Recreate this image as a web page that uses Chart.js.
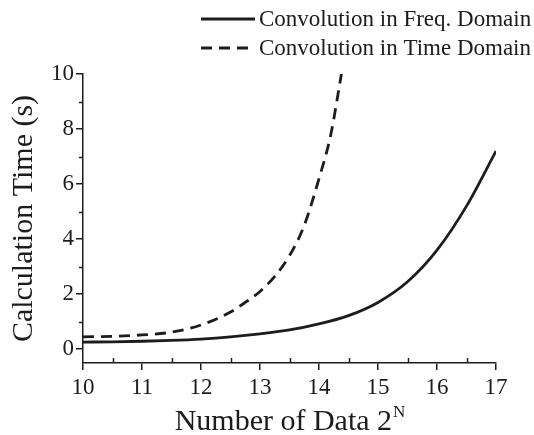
<!DOCTYPE html>
<html>
<head>
<meta charset="utf-8">
<script src="https://cdn.jsdelivr.net/npm/chart.js@4/dist/chart.umd.min.js"></script>
<style>
  html, body { margin: 0; padding: 0; background: #fff; }
  canvas { display: block; }
</style>
</head>
<body>
<canvas id="chart" width="534" height="435"></canvas>
<script>
// Calculation time versus data size exponent N
const freqN    = [10, 10.5, 11, 11.5, 12, 12.5, 13, 13.5, 14, 14.5, 15, 15.5, 16, 16.5, 17];
const freqTime = [0.26, 0.27, 0.29, 0.32, 0.37, 0.45, 0.56, 0.70, 0.92, 1.22, 1.70, 2.45, 3.60, 5.20, 7.20];

const timeN    = [10, 10.5, 11, 11.5, 12, 12.5, 12.75, 13, 13.25, 13.5, 13.75, 14, 14.2, 14.38];
const timeTime = [0.45, 0.47, 0.52, 0.62, 0.88, 1.35, 1.70, 2.10, 2.65, 3.40, 4.50, 6.20, 7.80, 10.0];

const xTickValues = [10, 11, 12, 13, 14, 15, 16, 17];
const yTickValues = [0, 2, 4, 6, 8, 10];

const seriesNames = ['Convolution in Freq. Domain', 'Convolution in Time Domain'];
const xTitleMain = 'Number of Data 2';
const xTitleSup = 'N';
const yTitle = 'Calculation Time (s)';

const INK = '#1c1c1c';
const SERIF = '"Liberation Serif", "Times New Roman", serif';

function toPoints(xs, ys) {
  return xs.map((x, i) => ({ x: x, y: ys[i] }));
}

// Axis lines, minor ticks, titles and legend drawn over the chart
const decorations = {
  id: 'decorations',
  afterDraw(chart) {
    const ctx = chart.ctx;
    const xs = chart.scales.x, ys = chart.scales.y;
    const area = chart.chartArea;
    ctx.save();
    ctx.strokeStyle = INK;
    ctx.lineWidth = 1.5;

    // minor x ticks (pointing into the plot)
    ctx.beginPath();
    for (let i = 0; i < xTickValues.length - 1; i++) {
      const v = (xTickValues[i] + xTickValues[i + 1]) / 2;
      const px = Math.round(xs.getPixelForValue(v)) + 0.5;
      ctx.moveTo(px, area.bottom);
      ctx.lineTo(px, area.bottom - 5);
    }
    // minor y ticks (pointing outward)
    for (let i = 0; i < yTickValues.length - 1; i++) {
      const v = (yTickValues[i] + yTickValues[i + 1]) / 2;
      const py = Math.round(ys.getPixelForValue(v)) + 0.5;
      ctx.moveTo(area.left, py);
      ctx.lineTo(area.left - 4, py);
    }
    ctx.stroke();

    // y axis title
    ctx.fillStyle = INK;
    ctx.font = '30px ' + SERIF;
    ctx.textAlign = 'center';
    ctx.textBaseline = 'middle';
    ctx.save();
    ctx.translate(24, (area.top + area.bottom) / 2);
    ctx.rotate(-Math.PI / 2);
    ctx.fillText(yTitle, 0, 0);
    ctx.restore();

    // x axis title with superscript
    ctx.textBaseline = 'alphabetic';
    ctx.textAlign = 'left';
    ctx.font = '30px ' + SERIF;
    const mainW = ctx.measureText(xTitleMain).width;
    ctx.font = '17px ' + SERIF;
    const supW = ctx.measureText(xTitleSup).width;
    const cx = (area.left + area.right) / 2;
    const startX = cx - (mainW + supW) / 2;
    ctx.font = '30px ' + SERIF;
    ctx.fillText(xTitleMain, startX, 430);
    ctx.font = '17px ' + SERIF;
    ctx.fillText(xTitleSup, startX + mainW + 1, 417);

    // legend
    ctx.font = '23px ' + SERIF;
    ctx.textBaseline = 'middle';
    const rows = [19, 48];
    chart.data.datasets.forEach((ds, i) => {
      const y = rows[i];
      ctx.beginPath();
      ctx.lineWidth = ds.borderWidth;
      ctx.setLineDash(ds.borderDash || []);
      ctx.strokeStyle = ds.borderColor;
      ctx.moveTo(201, y);
      ctx.lineTo(255, y);
      ctx.stroke();
      ctx.setLineDash([]);
      ctx.fillStyle = INK;
      ctx.fillText(ds.label, 259, y + 1);
    });
    ctx.restore();
  }
};

new Chart(document.getElementById('chart'), {
  type: 'line',
  data: {
    datasets: [
      {
        label: seriesNames[0],
        data: toPoints(freqN, freqTime),
        borderColor: INK,
        borderWidth: 2.8,
        pointRadius: 0,
        cubicInterpolationMode: 'monotone',
        fill: false
      },
      {
        label: seriesNames[1],
        data: toPoints(timeN, timeTime),
        borderColor: INK,
        borderWidth: 2.8,
        borderDash: [11, 7],
        pointRadius: 0,
        cubicInterpolationMode: 'monotone',
        fill: false
      }
    ]
  },
  options: {
    responsive: false,
    animation: false,
    devicePixelRatio: 1,
    layout: { padding: { top: 74, right: 38, left: 0, bottom: 0 } },
    plugins: {
      legend: { display: false },
      tooltip: { enabled: false }
    },
    scales: {
      x: {
        type: 'linear',
        min: 10,
        max: 17,
        afterBuildTicks(scale) { scale.ticks = xTickValues.map(v => ({ value: v })); },
        afterFit(scale) { scale.height = 72; },
        grid: { drawOnChartArea: false, drawTicks: true, tickLength: 7, color: INK, lineWidth: 1.5 },
        border: { display: true, color: INK, width: 1.5 },
        ticks: { color: INK, padding: 4, font: { family: SERIF, size: 23 }, maxRotation: 0 }
      },
      y: {
        type: 'linear',
        min: -0.5,
        max: 10,
        afterBuildTicks(scale) { scale.ticks = yTickValues.map(v => ({ value: v })); },
        afterFit(scale) { scale.width = 83; },
        grid: { drawOnChartArea: false, drawTicks: true, tickLength: 7, color: INK, lineWidth: 1.5 },
        border: { display: true, color: INK, width: 1.5 },
        ticks: { color: INK, padding: 2, font: { family: SERIF, size: 23 } }
      }
    }
  },
  plugins: [decorations]
});
</script>
</body>
</html>
